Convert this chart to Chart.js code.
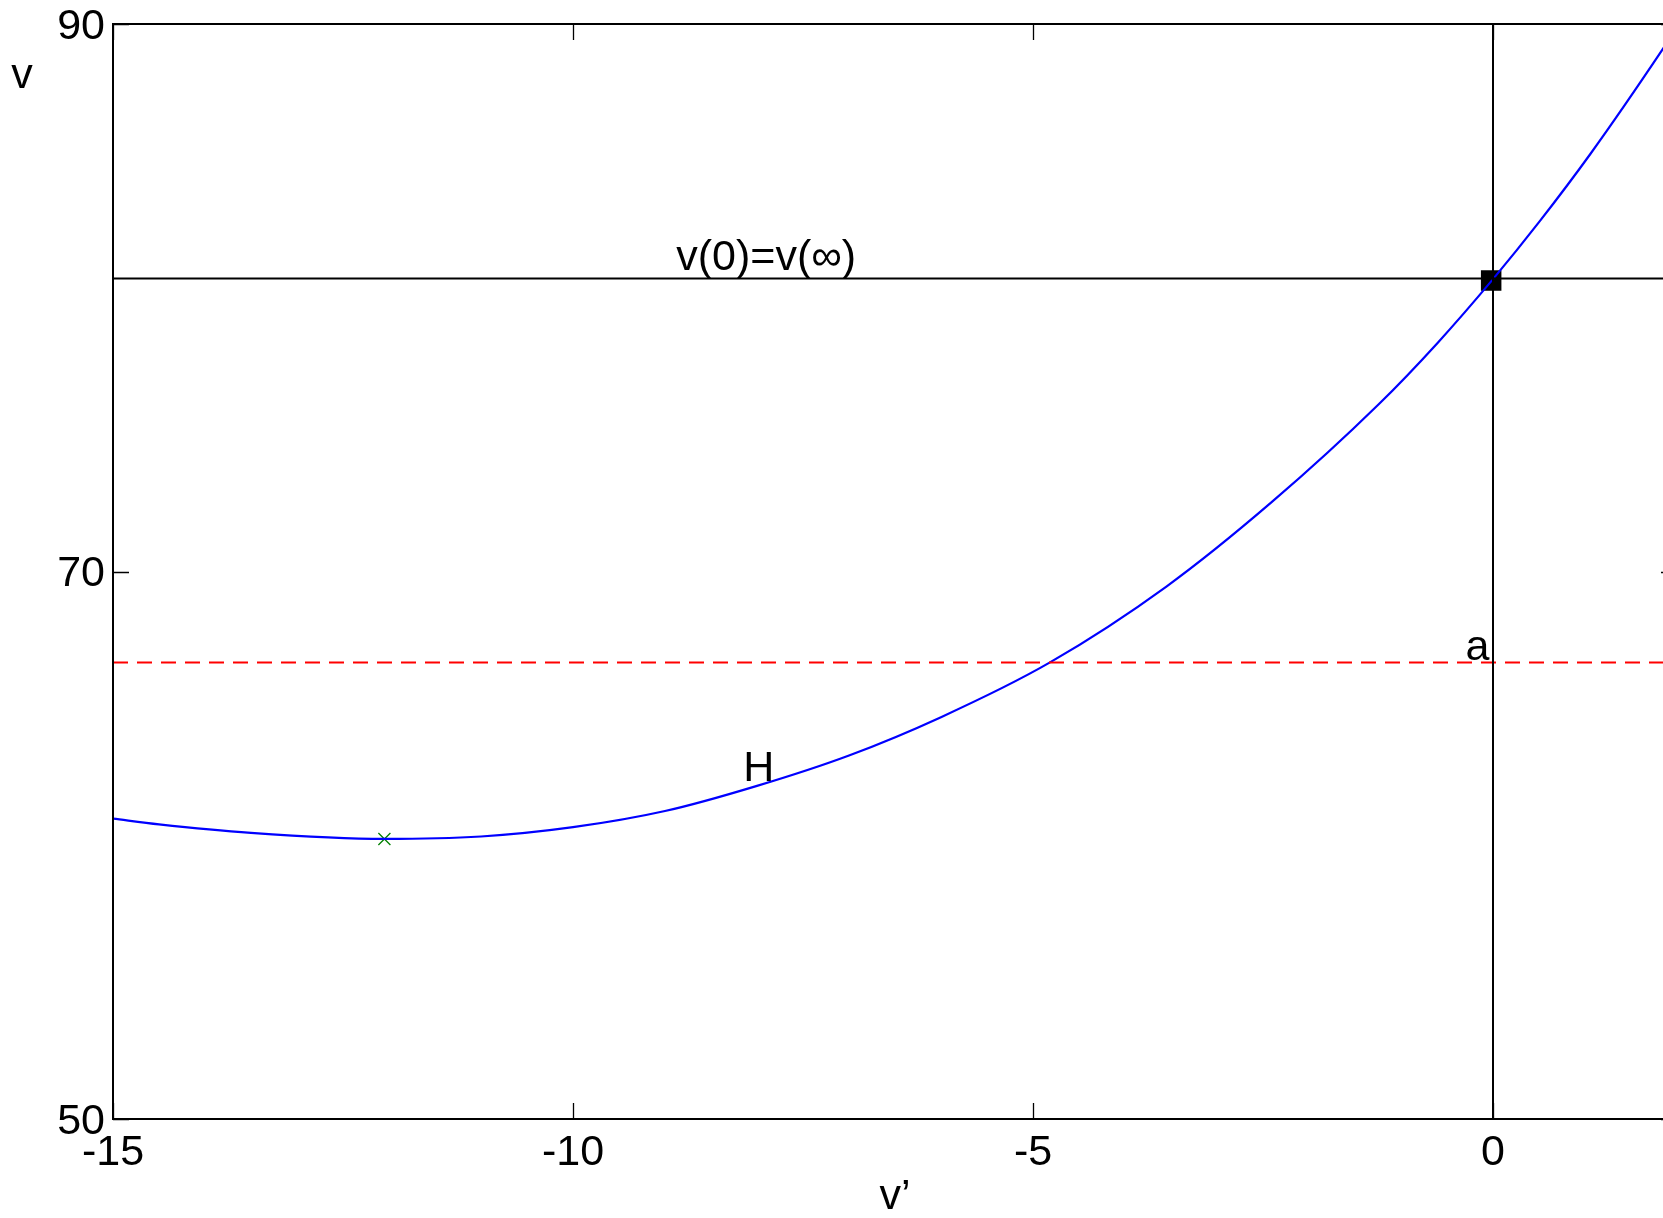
<!DOCTYPE html>
<html>
<head>
<meta charset="utf-8">
<script src="https://cdn.jsdelivr.net/npm/chart.js@4.4.1/dist/chart.umd.min.js"></script>
<style>
  html, body { margin: 0; padding: 0; background: #ffffff; overflow: hidden; }
  #wrap { position: absolute; left: 0; top: 0; width: 1700px; height: 1218px; }
</style>
</head>
<body>
<div id="wrap"><canvas id="c" width="1700" height="1218"></canvas></div>
<script>
// ---- data ----
const xTickValues = [-15, -10, -5, 0];
const yTickValues = [50, 70, 90];
const xRange = [-15, 2];
const yRange = [50, 90];

// curve H (v' on x, v on y)
const curveX = [-15, -14.5, -13.5, -12.05, -11, -10, -9, -8, -7, -6, -4.82, -3.55, -2.40, -1.245, -0.6, 0, 0.5, 1.06, 1.845, 2];
const curveV = [60.97, 60.76, 60.45, 60.23, 60.32, 60.66, 61.25, 62.17, 63.28, 64.68, 66.67, 69.45, 72.55, 76.1, 78.36, 80.68, 82.76, 85.26, 89.08, 89.88];

const levelV0 = 80.7;     // v(0)=v(inf) horizontal line
const levelA = 66.68;     // a, red dashed
const verticalX = 0;      // vertical line at v'=0
const squareX = [-0.02];  const squareV = [80.63];
const minX = [-12.05];    const minV = [60.23];

// text annotations (data coordinates)
const labelV0 = { text: 'v(0)=v(\u221E)', x: -7.9, y: 81.03 };
const labelA = { text: 'a', x: -0.17, y: 66.78 };
const labelH = { text: 'H', x: -7.98, y: 62.33 };
const yAxisTitle = 'v';
const xAxisTitle = 'v\u2019';

const FONT = '"Liberation Sans", Arial, Helvetica, sans-serif';
const FS = 43;

const pts = (xs, ys) => xs.map((x, i) => ({ x: x, y: ys[i] }));

const boxPlugin = {
  id: 'matlabBox',
  afterDraw(chart) {
    const { ctx, chartArea: a, scales: { x, y } } = chart;
    ctx.save();
    ctx.strokeStyle = '#000';
    ctx.lineWidth = 2;
    ctx.strokeRect(a.left, a.top, a.right - a.left, a.bottom - a.top);
    const tl = 16;
    ctx.lineWidth = 1.3;
    ctx.beginPath();
    xTickValues.forEach(v => {
      const px = Math.round(x.getPixelForValue(v)) + 0.5;
      ctx.moveTo(px, a.bottom); ctx.lineTo(px, a.bottom - tl);
      ctx.moveTo(px, a.top); ctx.lineTo(px, a.top + tl);
    });
    yTickValues.forEach(v => {
      const py = Math.round(y.getPixelForValue(v)) + 0.5;
      ctx.moveTo(a.left, py); ctx.lineTo(a.left + tl, py);
      ctx.moveTo(a.right, py); ctx.lineTo(a.right - tl, py);
    });
    ctx.stroke();

    // annotations
    ctx.fillStyle = '#000';
    ctx.font = FS + 'px ' + FONT;
    ctx.textBaseline = 'alphabetic';
    ctx.textAlign = 'center';
    [labelV0, labelA, labelH].forEach(l => {
      ctx.fillText(l.text, x.getPixelForValue(l.x), y.getPixelForValue(l.y));
    });
    // axis titles
    ctx.fillText(yAxisTitle, a.left - 91, a.top + 64);
    ctx.fillText(xAxisTitle, (a.left + a.right) / 2, a.bottom + 90);
    ctx.restore();
  }
};

new Chart(document.getElementById('c'), {
  type: 'line',
  data: {
    datasets: [
      { data: pts([xRange[0], xRange[1]], [levelV0, levelV0]), borderColor: '#000', borderWidth: 2, pointRadius: 0, tension: 0 },
      { data: pts([verticalX, verticalX], [yRange[0], yRange[1]]), borderColor: '#000', borderWidth: 2, pointRadius: 0, tension: 0 },
      { data: pts([xRange[0], xRange[1]], [levelA, levelA]), borderColor: '#ff0000', borderWidth: 2, borderDash: [15, 9], pointRadius: 0, tension: 0 },
      { data: pts(curveX, curveV), borderColor: '#0000ff', borderWidth: 2.2, pointRadius: 0, cubicInterpolationMode: 'monotone' },
      { data: pts(minX, minV), showLine: false, pointStyle: 'crossRot', pointRadius: 8.5, borderColor: '#008000', borderWidth: 1.3, backgroundColor: '#008000' },
      { data: pts(squareX, squareV), showLine: false, pointStyle: 'rect', pointRadius: 14.5, borderWidth: 0, backgroundColor: '#000', borderColor: '#000' }
    ]
  },
  options: {
    responsive: false,
    devicePixelRatio: 1,
    animation: false,
    events: [],
    layout: { padding: { top: 24, left: 0, right: 23, bottom: 0 } },
    plugins: { legend: { display: false }, tooltip: { enabled: false }, title: { display: false } },
    scales: {
      x: {
        type: 'linear', min: xRange[0], max: xRange[1],
        grid: { display: false, drawTicks: false },
        border: { display: false },
        ticks: { font: { size: FS, family: FONT }, color: '#000', padding: 8, maxRotation: 0, autoSkip: false },
        afterBuildTicks: s => { s.ticks = xTickValues.map(v => ({ value: v })); },
        afterFit: s => { s.height = 99; s.paddingLeft = 0; s.paddingRight = 0; }
      },
      y: {
        type: 'linear', min: yRange[0], max: yRange[1],
        grid: { display: false, drawTicks: false },
        border: { display: false },
        ticks: { font: { size: FS, family: FONT }, color: '#000', padding: 8, labelOffset: 3, autoSkip: false },
        afterBuildTicks: s => { s.ticks = yTickValues.map(v => ({ value: v })); },
        afterFit: s => { s.width = 113; s.paddingTop = 0; s.paddingBottom = 0; }
      }
    }
  },
  plugins: [boxPlugin]
});
</script>
</body>
</html>
